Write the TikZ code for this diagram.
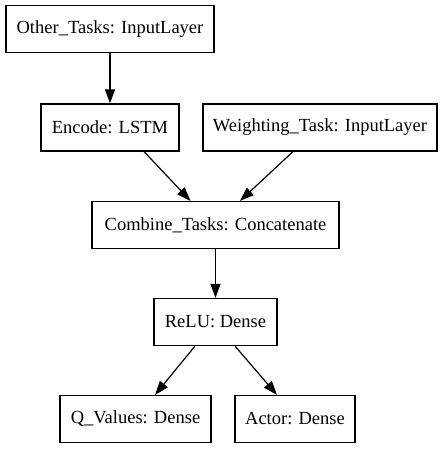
\documentclass[tikz,border=0pt]{standalone}
\usepackage{fontspec}
\setmainfont{Liberation Serif}
\usetikzlibrary{arrows.meta}

\begin{document}
\begin{tikzpicture}[x=1pt, y=-1pt,
        layer/.style={draw, line width=1.2pt, inner sep=0pt, minimum height=47pt, font=\fontsize{18.5}{20}\selectfont},
        flow/.style={line width=1.2pt, -{Triangle[length=14pt, width=10pt]}}]
        \useasboundingbox (0, 0) rectangle (443, 449);
        \node[layer, minimum width=208pt] (other)     at (110, 29)    {Other\_Tasks: InputLayer};
        \node[layer, minimum width=138pt] (encode)    at (110, 127.5) {Encode: LSTM};
        \node[layer, minimum width=234pt] (weighting) at (320, 127.5) {Weighting\_Task: InputLayer};
        \node[layer, minimum width=247pt] (combine)   at (215.5, 225) {Combine\_Tasks: Concatenate};
        \node[layer, minimum width=123pt] (relu)      at (215.5, 322) {ReLU: Dense};
        \node[layer, minimum width=151pt] (qvalues)   at (135.5, 419) {Q\_Values: Dense};
        \node[layer, minimum width=120pt] (actor)     at (295, 419)   {Actor: Dense};
        \draw[flow] (other) -- (encode);
        \draw[flow] ([xshift=34pt]encode.south) -- ([xshift=-25pt]combine.north);
        \draw[flow] ([xshift=-27pt]weighting.south) -- ([xshift=24.5pt]combine.north);
        \draw[flow] (combine) -- (relu);
        \draw[flow] ([xshift=-20.5pt]relu.south) -- ([xshift=19.5pt]qvalues.north);
        \draw[flow] ([xshift=19.5pt]relu.south) -- ([xshift=-18pt]actor.north);
    \end{tikzpicture}
\end{document}
